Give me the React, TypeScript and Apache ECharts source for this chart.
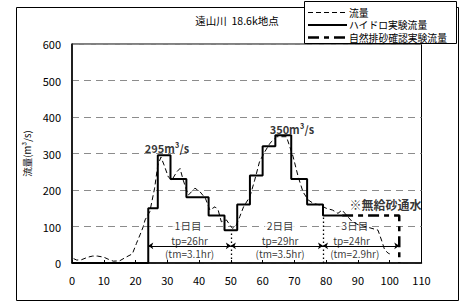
import React, { useEffect, useRef } from "react";
import * as echarts from "echarts";

const FONT = "'Noto Sans CJK JP', 'Noto Sans', sans-serif";

const titleText = "遠山川  18.6k地点";
const seriesNames = ["流量", "ハイドロ実験流量", "自然排砂確認実験流量"];
const yAxisName = "流量(m³/s)";

// observed flow (hr, m3/s)
const flow: [number, number][] = [
  [0.5, 12], [1.5, 8], [3, 9], [5, 16], [6.5, 19], [8, 19], [10, 16], [11.5, 10], [13, 5], [15, 6],
  [17, 16], [19, 25], [20.3, 54], [21.4, 77], [22.4, 99], [23, 118], [24.5, 141], [26, 205],
  [27, 268], [28, 290], [29, 268], [30.3, 236], [31.4, 227], [33, 250], [34, 259], [35, 227],
  [36.6, 186], [38.7, 205], [40.3, 195], [42, 177], [43.4, 145], [45, 154], [46, 145], [47, 113],
  [48.6, 118], [49.7, 104], [50.5, 95], [51.5, 100], [52.8, 127], [54, 154], [56, 182], [57.5, 227],
  [59, 277], [60.7, 305], [62.3, 328], [64.4, 346], [67.5, 346], [69.6, 291], [71.2, 236],
  [72.7, 195], [74.3, 173], [76, 163], [78, 159], [80, 150], [82, 145], [83.7, 136], [85, 145],
  [86, 135], [88, 115], [90, 105], [92.7, 99], [96.3, 90], [97.4, 63], [98.4, 36], [99.5, 27], [100, 25],
];

// hydrograph experiment steps (start hr, value held until next start)
const hydro: [number, number][] = [
  [0, 0], [24, 150], [27, 295], [31, 230], [36, 180], [43, 130], [48, 90], [52, 160],
  [56, 240], [60, 320], [64, 350], [69, 230], [74, 160], [79, 130], [85, 130],
];

// natural sediment flushing experiment
const natural: [number, number][] = [[85, 130], [103, 130], [103, 0]];

// day spans
const spanStart = [24, 50, 79];
const spanEnd = [50, 79, 103];
const arrowY = 47;
const dividerX = [50, 79];
const dividerTop = [90, 130];

const dayText = ["1日目", "2日目", "3日目"];
const dayX = [36.5, 65.5, 89];
const dayY = 104;
const tpText = ["tp=26hr", "tp=29hr", "tp=24hr"];
const tpX = [37, 65.5, 88];
const tpY = 63;
const tmText = ["(tm=3.1hr)", "(tm=3.5hr)", "(tm=2.9hr)"];
const tmX = [37, 65.5, 89];
const tmY = 25;

const noteText = ["295m³/s", "350m³/s", "※無給砂通水"];
const noteX = [29.9, 69.2, 98.7];
const noteY = [315, 367, 160];
const noteSize = [11, 11, 12];

const xTicks = { min: 0, max: 110, interval: 10 };
const yTicks = { min: 0, max: 600, interval: 100 };

const flowDash = [5, 3];
const naturalDash = [11, 5, 5, 5];

export default function App() {
  const ref = useRef<HTMLDivElement>(null);
  useEffect(() => {
    if (!ref.current) return;
    const chart = echarts.init(ref.current, undefined, { renderer: "svg" });

    const textItems = (texts: string[], xs: number[], y: number | number[]) =>
      texts.map((t, i) => ({ name: t, value: [xs[i], Array.isArray(y) ? y[i] : y] }));

    const legendStyles = [
      { lineWidth: 1, lineDash: flowDash },
      { lineWidth: 2, lineDash: null },
      { lineWidth: 2.5, lineDash: naturalDash },
    ];
    const legendRowY = [12.5, 25, 37.5];
    const legendGraphics: any[] = [
      {
        type: "rect", left: 304, top: 1, z: 10,
        shape: { width: 152, height: 42 },
        style: { fill: "#fff", stroke: "#000", lineWidth: 1 },
      },
    ];
    seriesNames.forEach((n, i) => {
      legendGraphics.push({
        type: "line", z: 11,
        shape: { x1: 308, y1: legendRowY[i], x2: 347, y2: legendRowY[i] },
        style: { stroke: "#000", lineWidth: legendStyles[i].lineWidth, lineDash: legendStyles[i].lineDash },
      });
      legendGraphics.push({
        type: "text", x: 349, y: legendRowY[i], z: 11,
        style: {
          text: n, fontSize: 9.8, fontFamily: FONT, fill: "#000",
          textAlign: "left", textVerticalAlign: "middle", lineHeight: 11,
        },
      });
    });

    const option: any = {
      animation: false,
      backgroundColor: "#fff",
      textStyle: { fontFamily: FONT },
      grid: {
        left: 72, right: 42.5, top: 44, bottom: 39,
        show: true, borderColor: "#000", borderWidth: 1, backgroundColor: "transparent",
      },
      graphic: [
        {
          type: "rect", left: 14, top: 5, z: -1,
          shape: { width: 442, height: 293 },
          style: { fill: "none", stroke: "#000", lineWidth: 1 },
        },
        {
          type: "text", x: 237, y: 20, z: 5,
          style: {
            text: titleText, fontSize: 10.5, fontFamily: FONT, fill: "#000",
            textAlign: "center", textVerticalAlign: "middle",
          },
        },
        ...legendGraphics,
      ],
      xAxis: {
        type: "value", ...xTicks,
        axisLine: { lineStyle: { color: "#000", width: 1.5 } },
        axisTick: { show: true, inside: true, length: 3, lineStyle: { color: "#000" } },
        axisLabel: { color: "#000", fontSize: 11, margin: 11, fontFamily: FONT },
        splitLine: { show: false },
      },
      yAxis: {
        type: "value", ...yTicks,
        name: yAxisName, nameLocation: "middle", nameRotate: 90, nameGap: 40,
        nameTextStyle: { fontSize: 9.5, color: "#000", fontFamily: FONT },
        axisLine: { show: true, lineStyle: { color: "#000", width: 1.5 } },
        axisTick: { show: false },
        axisLabel: { color: "#000", fontSize: 11, margin: 11, fontFamily: FONT },
        splitLine: { show: true, lineStyle: { color: "#8c8c8c", width: 1, type: [7, 5] } },
      },
      series: [
        {
          name: seriesNames[0], type: "line", data: flow, symbol: "none", z: 3,
          lineStyle: { color: "#000", width: 1, type: flowDash },
          itemStyle: { color: "#000" },
        },
        {
          name: seriesNames[1], type: "line", data: hydro, step: "end", symbol: "none", z: 4,
          lineStyle: { color: "#000", width: 2 },
          itemStyle: { color: "#000" },
          markLine: {
            silent: true, symbol: ["none", "none"], label: { show: false },
            lineStyle: { color: "#000", width: 1.3, type: [1.5, 2.5] },
            data: dividerX.map((x, i) => [{ coord: [x, 0] }, { coord: [x, dividerTop[i]] }]),
          },
        },
        {
          name: seriesNames[2], type: "line", data: natural, symbol: "none", z: 4,
          lineStyle: { color: "#000", width: 2.5, type: naturalDash },
          itemStyle: { color: "#000" },
          markLine: {
            silent: true, symbol: ["arrow", "arrow"], symbolSize: 5, label: { show: false },
            lineStyle: { color: "#000", width: 1, type: "solid" },
            data: spanStart.map((s, i) => [{ coord: [s, arrowY] }, { coord: [spanEnd[i], arrowY] }]),
          },
        },
        {
          type: "scatter", symbolSize: 0, z: 1, silent: true,
          data: textItems(dayText, dayX, dayY),
          label: {
            show: true, position: "inside", formatter: (p: any) => p.name,
            fontSize: 10.5, color: "#000", fontFamily: FONT, backgroundColor: "#fff", padding: [0, 2],
          },
        },
        {
          type: "scatter", symbolSize: 0, z: 1, silent: true,
          data: [...textItems(tpText, tpX, tpY), ...textItems(tmText, tmX, tmY)],
          label: {
            show: true, position: "inside", formatter: (p: any) => p.name,
            fontSize: 10, color: "#000", fontFamily: FONT,
          },
        },
        {
          type: "scatter", symbolSize: 0, z: 5, silent: true,
          data: textItems(noteText, noteX, noteY).map((d, i) => ({
            ...d,
            label: { fontSize: noteSize[i] },
          })),
          label: {
            show: true, position: "inside", formatter: (p: any) => p.name,
            fontWeight: "bold", color: "#000", fontFamily: FONT,
          },
        },
      ],
    };
    chart.setOption(option);
    return () => chart.dispose();
  }, []);
  return (
    <div
      ref={ref}
      style={{ position: "absolute", left: 0, top: 0, width: 464, height: 302, background: "#fff" }}
    />
  );
}
